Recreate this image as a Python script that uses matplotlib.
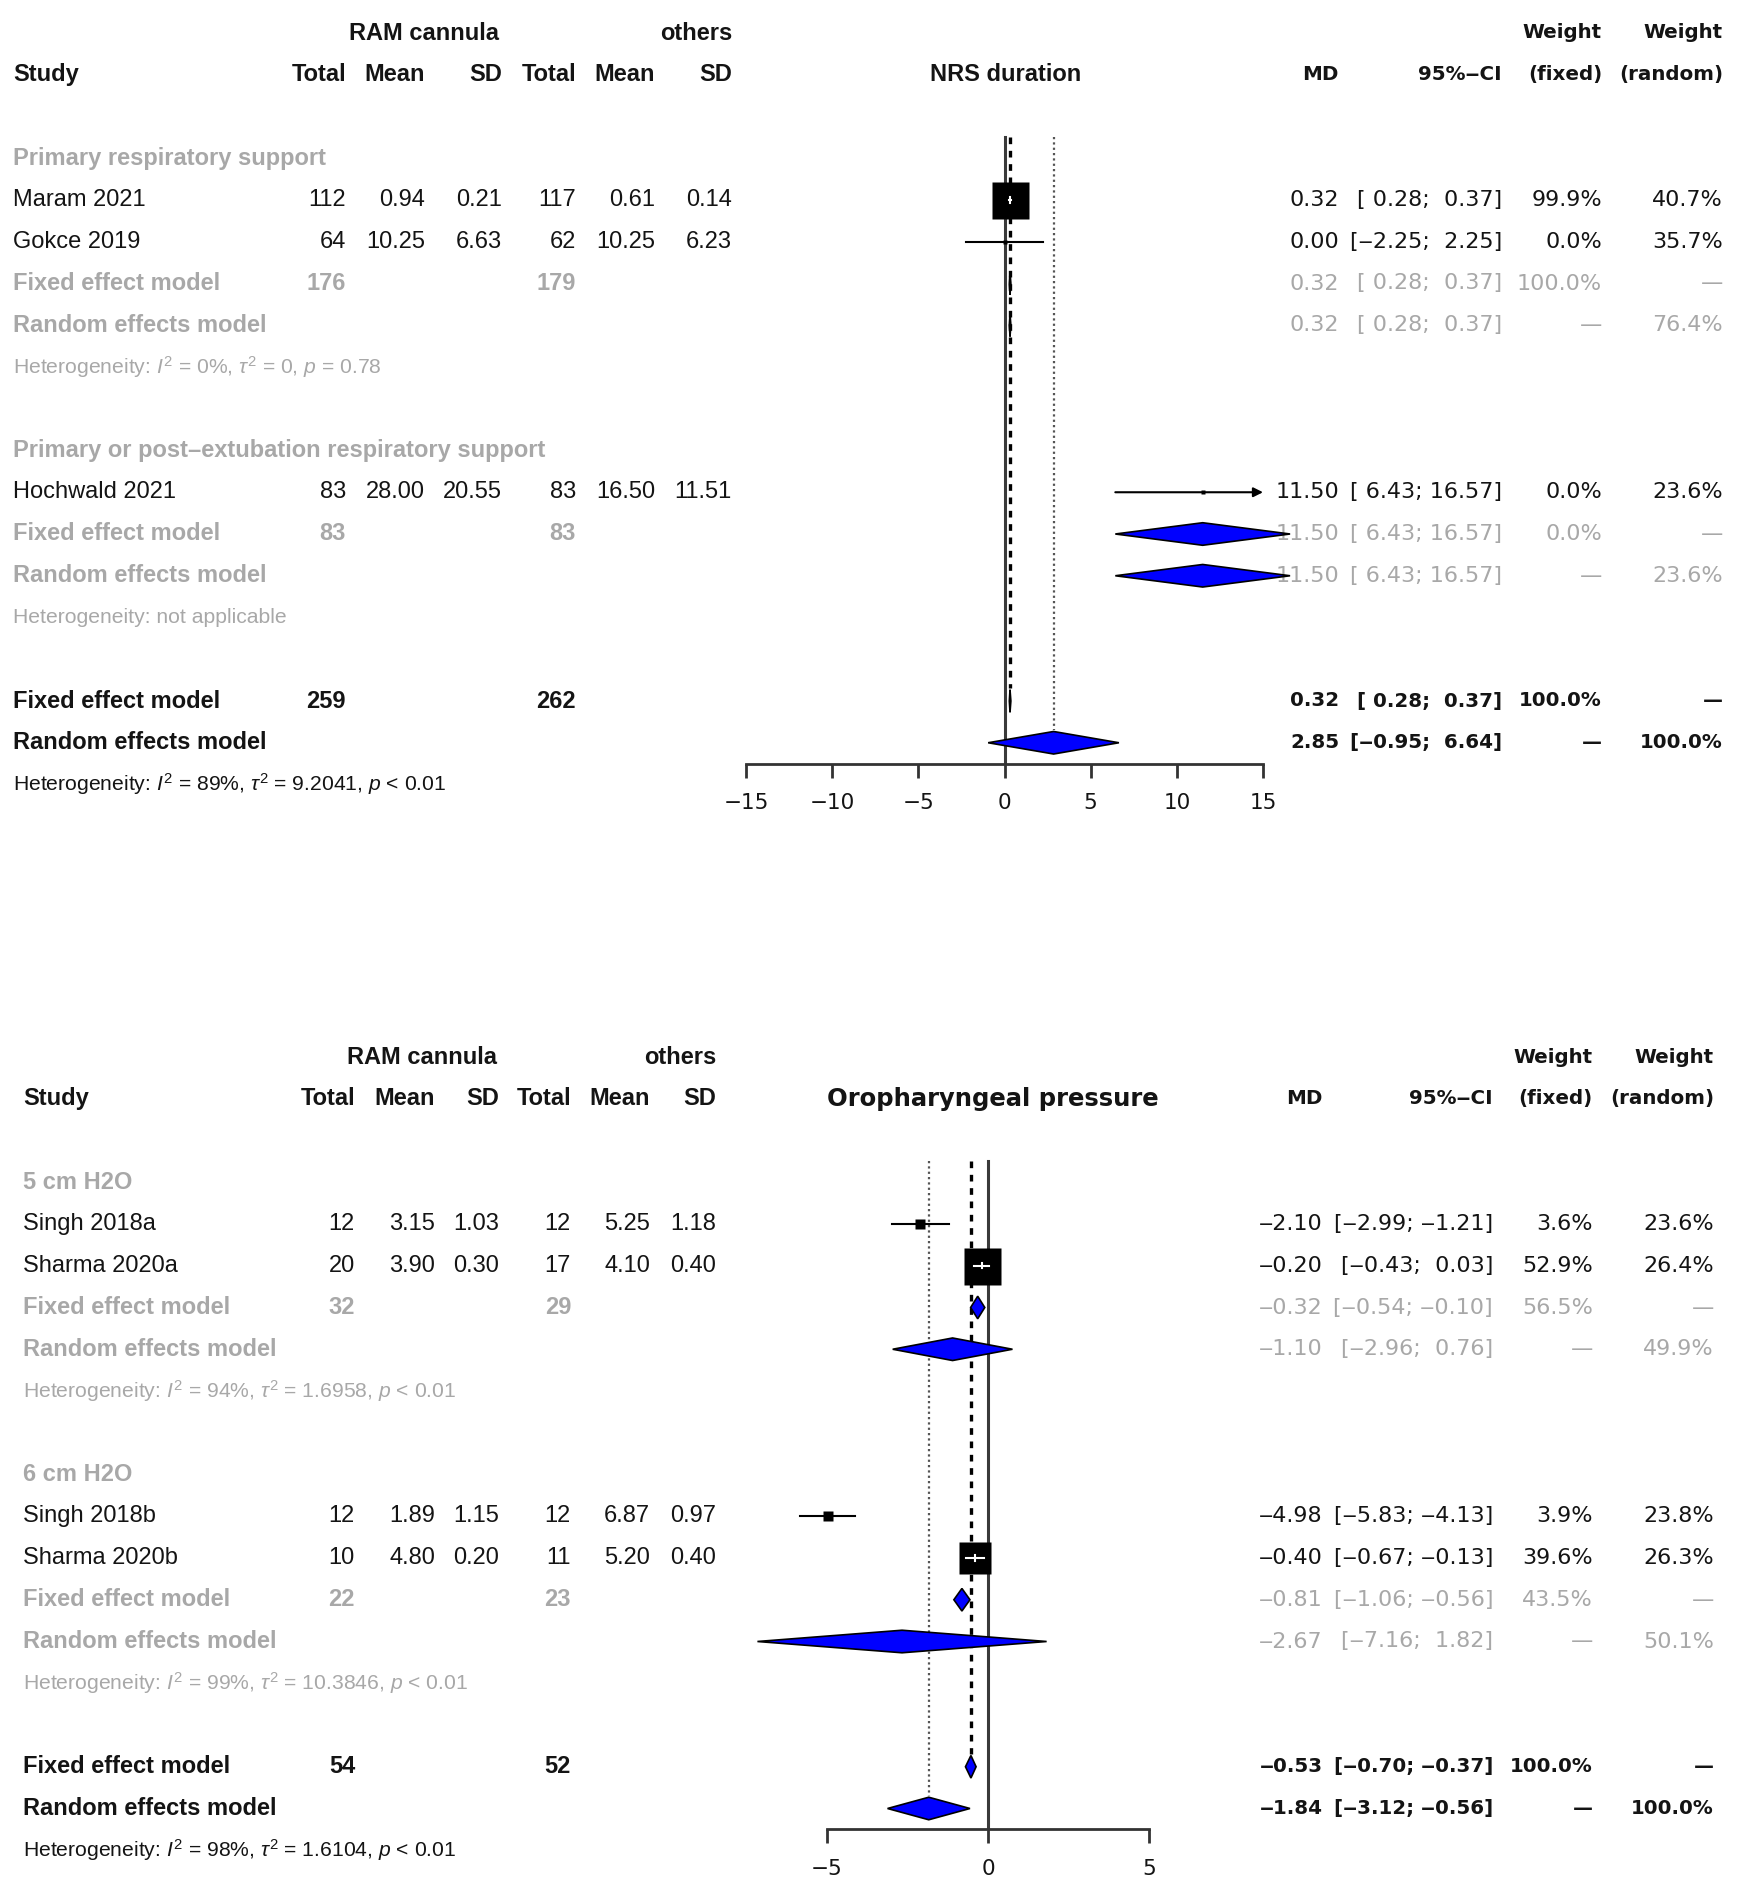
import matplotlib
matplotlib.use("Agg")
import matplotlib.pyplot as plt
import matplotlib.transforms as mtransforms
from matplotlib.patches import Polygon
import numpy as np

plt.rcParams['mathtext.fontset'] = 'custom'
plt.rcParams['mathtext.rm'] = 'Liberation Sans'
plt.rcParams['mathtext.it'] = 'Liberation Sans:italic'
plt.rcParams['mathtext.bf'] = 'Liberation Sans:bold'

# ---------------- data: NRS duration ----------------
nrs_groups = ["Primary respiratory support",
              "Primary or post\u2013extubation respiratory support"]
nrs_studies = ["Maram 2021", "Gokce 2019", "Hochwald 2021"]
nrs_study_group = [0, 0, 1]
nrs_n1 = [112, 64, 83]
nrs_mean1 = [0.94, 10.25, 28.00]
nrs_sd1 = [0.21, 6.63, 20.55]
nrs_n2 = [117, 62, 83]
nrs_mean2 = [0.61, 10.25, 16.50]
nrs_sd2 = [0.14, 6.23, 11.51]
nrs_md = [0.32, 0.00, 11.50]
nrs_lo = [0.28, -2.25, 6.43]
nrs_hi = [0.37, 2.25, 16.57]
nrs_wfix = [99.9, 0.0, 0.0]
nrs_wran = [40.7, 35.7, 23.6]
nrs_sub_n1 = [176, 83]
nrs_sub_n2 = [179, 83]
nrs_subfix_md = [0.32, 11.50]
nrs_subfix_lo = [0.28, 6.43]
nrs_subfix_hi = [0.37, 16.57]
nrs_subfix_w = [100.0, 0.0]
nrs_subran_md = [0.32, 11.50]
nrs_subran_lo = [0.28, 6.43]
nrs_subran_hi = [0.37, 16.57]
nrs_subran_w = [76.4, 23.6]
nrs_sub_het = [r"Heterogeneity: $I^2$ = 0%, $\tau^2$ = 0, $p$ = 0.78",
               "Heterogeneity: not applicable"]
nrs_total_n = [259, 262]
nrs_fix = [0.32, 0.28, 0.37]
nrs_ran = [2.85, -0.95, 6.64]
nrs_het = r"Heterogeneity: $I^2$ = 89%, $\tau^2$ = 9.2041, $p$ < 0.01"
nrs_ticks = [-15, -10, -5, 0, 5, 10, 15]

# ---------------- data: Oropharyngeal pressure ----------------
op_groups = ["5 cm H2O", "6 cm H2O"]
op_studies = ["Singh 2018a", "Sharma 2020a", "Singh 2018b", "Sharma 2020b"]
op_study_group = [0, 0, 1, 1]
op_n1 = [12, 20, 12, 10]
op_mean1 = [3.15, 3.90, 1.89, 4.80]
op_sd1 = [1.03, 0.30, 1.15, 0.20]
op_n2 = [12, 17, 12, 11]
op_mean2 = [5.25, 4.10, 6.87, 5.20]
op_sd2 = [1.18, 0.40, 0.97, 0.40]
op_md = [-2.10, -0.20, -4.98, -0.40]
op_lo = [-2.99, -0.43, -5.83, -0.67]
op_hi = [-1.21, 0.03, -4.13, -0.13]
op_wfix = [3.6, 52.9, 3.9, 39.6]
op_wran = [23.6, 26.4, 23.8, 26.3]
op_sub_n1 = [32, 22]
op_sub_n2 = [29, 23]
op_subfix_md = [-0.32, -0.81]
op_subfix_lo = [-0.54, -1.06]
op_subfix_hi = [-0.10, -0.56]
op_subfix_w = [56.5, 43.5]
op_subran_md = [-1.10, -2.67]
op_subran_lo = [-2.96, -7.16]
op_subran_hi = [0.76, 1.82]
op_subran_w = [49.9, 50.1]
op_sub_het = [r"Heterogeneity: $I^2$ = 94%, $\tau^2$ = 1.6958, $p$ < 0.01",
              r"Heterogeneity: $I^2$ = 99%, $\tau^2$ = 10.3846, $p$ < 0.01"]
op_total_n = [54, 52]
op_fix = [-0.53, -0.70, -0.37]
op_ran = [-1.84, -3.12, -0.56]
op_het = r"Heterogeneity: $I^2$ = 98%, $\tau^2$ = 1.6104, $p$ < 0.01"
op_ticks = [-5, 0, 5]

W, H = 1752, 1898
GREY = '#a8a8a8'
INK = '#141414'
BLUE = '#0000ff'
LFONT = 'Liberation Sans'
RFONT = 'DejaVu Sans'
FS = 17
RFS = 16
RBFS = 14.3
HFS = 15.2
ROW_PX = 41.75
DASH = '\u2012'


def num(v):
    return f"{v:.2f}".replace('-', DASH)


def lnum(v):
    return f"{v:.2f}".replace('-', '\u2013')


def ci_text(lo, hi):
    a = f"{lo:5.2f}".replace('-', DASH)
    b = f"{hi:5.2f}".replace('-', DASH)
    return f"[{a}; {b}]"


def pct(w):
    return f"{w:.1f}%"


def forest(panel):
    p = panel
    x0, x1 = p['px_range']
    y_top = p['row0_px'] - 0.5 * ROW_PX
    y_axis = p['row0_px'] + p['axis_row'] * ROW_PX
    ax = fig.add_axes([x0 / W, 1 - y_axis / H, (x1 - x0) / W, (y_axis - y_top) / H])
    ax.set_xlim(p['xlim'])
    ax.set_ylim(p['axis_row'], -0.5)
    for s in ['top', 'left', 'right']:
        ax.spines[s].set_visible(False)
    ax.spines['bottom'].set_color('#333333')
    ax.spines['bottom'].set_linewidth(2)
    ax.set_yticks([])
    ax.set_xticks(p['ticks'])
    ax.set_xticklabels([str(t).replace('-', '\u2212') for t in p['ticks']],
                       fontsize=15.5, family=RFONT, color=INK)
    ax.tick_params(axis='x', length=10, width=2, color='#333333', pad=11)
    ax.patch.set_alpha(0)

    upx = (x1 - x0) / (p['xlim'][1] - p['xlim'][0])
    tr = mtransforms.blended_transform_factory(fig.transFigure, ax.transData)
    c = p['cols']

    def put(key, row, s, color=INK, bold=False, font=LFONT, ha='right', size=FS):
        ax.text(c[key] / W, row, s, transform=tr, ha=ha, va='center', color=color,
                fontsize=size, family=font, fontweight='bold' if bold else 'normal',
                clip_on=False)

    def right_cols(row, md, lo, hi, wf, wr, color, bold=False):
        size = RBFS if bold else RFS
        put('md', row, num(md), color, bold, RFONT, size=size)
        put('ci', row, ci_text(lo, hi), color, bold, RFONT, size=size)
        put('wf', row, wf, color, bold, RFONT, size=size)
        put('wr', row, wr, color, bold, RFONT, size=size)

    def diamond(row, md, lo, hi):
        h = 0.27
        ax.add_patch(Polygon([(lo, row), (md, row - h), (hi, row), (md, row + h)],
                             closed=True, facecolor=BLUE, edgecolor='black',
                             linewidth=1.2, zorder=4, clip_on=False))

    # headers
    put('ram', 0, 'RAM cannula', bold=True, ha='center')
    put('others', 0, 'others', bold=True)
    put('study', 1, 'Study', bold=True, ha='left')
    for k, lab in [('n1', 'Total'), ('m1', 'Mean'), ('sd1', 'SD'),
                   ('n2', 'Total'), ('m2', 'Mean'), ('sd2', 'SD')]:
        put(k, 1, lab, bold=True)
    put('title', 1, p['title'], bold=True, ha='center', font=p['title_font'],
        size=p['title_size'])
    put('md', 1, 'MD', bold=True, font=RFONT, size=RBFS)
    put('ci', 1, '95%' + DASH + 'CI', bold=True, font=RFONT, size=RBFS)
    put('wf', 0, 'Weight', bold=True, font=RFONT, size=RBFS)
    put('wr', 0, 'Weight', bold=True, font=RFONT, size=RBFS)
    put('wf', 1, '(fixed)', bold=True, font=RFONT, size=RBFS)
    put('wr', 1, '(random)', bold=True, font=RFONT, size=RBFS)

    wmax = max(p['wfix'])
    row = 3
    for g, gname in enumerate(p['groups']):
        put('study', row, gname, GREY, bold=True, ha='left')
        row += 1
        for i, name in enumerate(p['studies']):
            if p['study_group'][i] != g:
                continue
            put('study', row, name, ha='left')
            put('n1', row, str(p['n1'][i]))
            put('m1', row, lnum(p['mean1'][i]))
            put('sd1', row, lnum(p['sd1'][i]))
            put('n2', row, str(p['n2'][i]))
            put('m2', row, lnum(p['mean2'][i]))
            put('sd2', row, lnum(p['sd2'][i]))
            right_cols(row, p['md'][i], p['lo'][i], p['hi'][i],
                       pct(p['wfix'][i]), pct(p['wran'][i]), INK)
            lo, hi = p['lo'][i], p['hi'][i]
            xmax = p['xlim'][1]
            if hi > xmax:
                ax.annotate('', xy=(xmax, row), xytext=(lo, row),
                            arrowprops=dict(arrowstyle='-|>', color='black', lw=1.5,
                                            mutation_scale=14, shrinkA=0, shrinkB=0),
                            zorder=3, annotation_clip=False)
            else:
                ax.plot([lo, hi], [row, row], color='black', lw=1.5, zorder=3,
                        clip_on=False)
            side = max(37 * np.sqrt(p['wfix'][i] / wmax), 5)
            ax.plot(p['md'][i], row, marker='s', markersize=side * 0.72,
                    color='black', mec='none', zorder=4, clip_on=False)
            half = side / 2 / upx
            if hi - lo < 2 * half:
                ax.plot([max(lo, p['md'][i] - half), min(hi, p['md'][i] + half)],
                        [row, row], color='white', lw=1.5, zorder=5, clip_on=False)
                ax.plot([p['md'][i]] * 2, [row - 0.06, row + 0.06], color='white',
                        lw=1.5, zorder=5, clip_on=False)
            row += 1
        # subgroup pooled estimates
        put('study', row, 'Fixed effect model', GREY, bold=True, ha='left')
        put('n1', row, str(p['sub_n1'][g]), GREY, bold=True)
        put('n2', row, str(p['sub_n2'][g]), GREY, bold=True)
        right_cols(row, p['subfix_md'][g], p['subfix_lo'][g], p['subfix_hi'][g],
                   pct(p['subfix_w'][g]), '\u2014', GREY)
        diamond(row, p['subfix_md'][g], p['subfix_lo'][g], p['subfix_hi'][g])
        row += 1
        put('study', row, 'Random effects model', GREY, bold=True, ha='left')
        right_cols(row, p['subran_md'][g], p['subran_lo'][g], p['subran_hi'][g],
                   '\u2014', pct(p['subran_w'][g]), GREY)
        diamond(row, p['subran_md'][g], p['subran_lo'][g], p['subran_hi'][g])
        row += 1
        put('study', row, p['sub_het'][g], GREY, ha='left', size=HFS)
        row += 2

    fix_row, ran_row, het_row = row, row + 1, row + 2
    put('study', fix_row, 'Fixed effect model', bold=True, ha='left')
    put('n1', fix_row, str(p['total_n'][0]), bold=True)
    put('n2', fix_row, str(p['total_n'][1]), bold=True)
    right_cols(fix_row, *p['fix'], '100.0%', '\u2014', INK, bold=True)
    diamond(fix_row, *p['fix'])
    put('study', ran_row, 'Random effects model', bold=True, ha='left')
    right_cols(ran_row, *p['ran'], '\u2014', '100.0%', INK, bold=True)
    diamond(ran_row, *p['ran'])
    put('study', het_row, p['het'], ha='left', size=HFS)

    # reference lines
    ax.plot([0, 0], [2.5, p['axis_row']], color='#3a3a3a', lw=2.2, zorder=1)
    ax.plot([p['fix'][0]] * 2, [2.5, fix_row - 0.3], color='black', lw=2.4,
            linestyle=(0, (2.0, 2.0)), zorder=2)
    ax.plot([p['ran'][0]] * 2, [2.5, ran_row - 0.3], color='#555555', lw=1.6,
            linestyle=(0, (1, 1.4)), zorder=2)
    return ax


fig = plt.figure(figsize=(W / 100, H / 100), dpi=100)
fig.patch.set_facecolor('white')

nrs_panel = dict(
    groups=nrs_groups, studies=nrs_studies, study_group=nrs_study_group,
    n1=nrs_n1, mean1=nrs_mean1, sd1=nrs_sd1, n2=nrs_n2, mean2=nrs_mean2, sd2=nrs_sd2,
    md=nrs_md, lo=nrs_lo, hi=nrs_hi, wfix=nrs_wfix, wran=nrs_wran,
    sub_n1=nrs_sub_n1, sub_n2=nrs_sub_n2,
    subfix_md=nrs_subfix_md, subfix_lo=nrs_subfix_lo, subfix_hi=nrs_subfix_hi,
    subfix_w=nrs_subfix_w, subran_md=nrs_subran_md, subran_lo=nrs_subran_lo,
    subran_hi=nrs_subran_hi, subran_w=nrs_subran_w, sub_het=nrs_sub_het,
    total_n=nrs_total_n, fix=nrs_fix, ran=nrs_ran, het=nrs_het, ticks=nrs_ticks,
    xlim=(-15, 15), px_range=(746, 1263), row0_px=33, axis_row=17.5,
    title='NRS duration', title_font=LFONT, title_size=FS,
    cols=dict(study=13, n1=346, m1=425, sd1=502, n2=576, m2=655, sd2=732,
              ram=424, others=732, title=1006, md=1339, ci=1502, wf=1602, wr=1723),
)

op_panel = dict(
    groups=op_groups, studies=op_studies, study_group=op_study_group,
    n1=op_n1, mean1=op_mean1, sd1=op_sd1, n2=op_n2, mean2=op_mean2, sd2=op_sd2,
    md=op_md, lo=op_lo, hi=op_hi, wfix=op_wfix, wran=op_wran,
    sub_n1=op_sub_n1, sub_n2=op_sub_n2,
    subfix_md=op_subfix_md, subfix_lo=op_subfix_lo, subfix_hi=op_subfix_hi,
    subfix_w=op_subfix_w, subran_md=op_subran_md, subran_lo=op_subran_lo,
    subran_hi=op_subran_hi, subran_w=op_subran_w, sub_het=op_sub_het,
    total_n=op_total_n, fix=op_fix, ran=op_ran, het=op_het, ticks=op_ticks,
    xlim=(-5, 5), px_range=(827, 1149), row0_px=1057, axis_row=18.5,
    title='Oropharyngeal pressure', title_font=RFONT, title_size=17.5,
    cols=dict(study=23, n1=355, m1=435, sd1=499, n2=571, m2=650, sd2=716,
              ram=422, others=716, title=993, md=1323, ci=1493, wf=1593, wr=1714),
)

forest(nrs_panel)
forest(op_panel)

fig.savefig('out.png', dpi=100, facecolor='white')
